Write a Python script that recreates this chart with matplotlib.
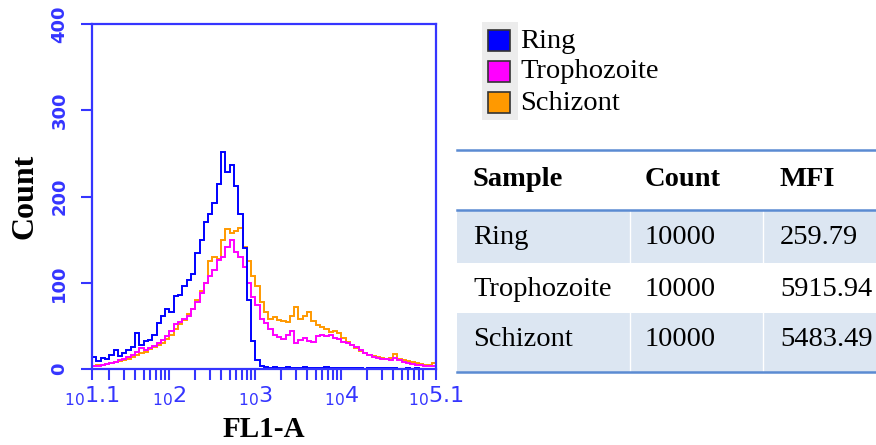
import numpy as np
import matplotlib
matplotlib.use("Agg")
import matplotlib.pyplot as plt
from matplotlib.patches import Rectangle
from matplotlib.ticker import FixedLocator, LogLocator, NullFormatter

plt.rcParams['mathtext.fontset'] = 'custom'
plt.rcParams['mathtext.rm'] = 'Liberation Sans'

# histogram bins: log10(FL1-A) from 1.1 to 5.1, step 0.05
log_lo = 1.1
log_hi = 5.1
log_step = 0.05

ring = [14, 9, 13, 12, 16, 22, 15, 18, 22, 26,
        42, 28, 32, 34, 40, 53, 61, 70, 66, 85,
        86, 96, 103, 110, 135, 150, 170, 180, 192, 215,
        252, 228, 236, 212, 180, 140, 80, 32, 10, 3,
        2, 1, 2, 1, 1, 2, 1, 1, 1, 2,
        1, 1, 1, 1, 2, 1, 1, 1, 1, 1,
        1, 1, 1, 0, 1, 1, 1, 1, 1, 1,
        1, 0, 0, 1, 0, 1, 0, 0, 0, 0]

trophozoite = [3, 4, 5, 6, 7, 8, 10, 12, 14, 16,
               20, 24, 22, 24, 27, 30, 34, 38, 44, 52,
               55, 58, 62, 70, 78, 88, 100, 108, 115, 126,
               130, 142, 150, 136, 130, 118, 100, 84, 74, 58,
               53, 46, 40, 37, 35, 40, 44, 30, 34, 36,
               32, 31, 38, 39, 38, 39, 36, 35, 31, 30,
               28, 25, 22, 19, 16, 14, 13, 12, 12, 11,
               13, 10, 8, 7, 6, 5, 5, 4, 4, 4]

schizont = [4, 5, 5, 6, 7, 8, 9, 11, 12, 14,
            16, 18, 20, 23, 25, 28, 30, 35, 40, 46,
            52, 57, 64, 70, 80, 90, 100, 125, 130, 128,
            150, 162, 158, 160, 164, 142, 125, 108, 96, 78,
            66, 58, 60, 57, 56, 54, 62, 72, 58, 62,
            66, 56, 51, 49, 46, 43, 44, 42, 36, 31,
            28, 24, 21, 18, 16, 15, 14, 13, 12, 13,
            17, 12, 10, 9, 8, 7, 6, 5, 5, 7]

legend_names = ["Ring", "Trophozoite", "Schizont"]
colors = ["#0000ff", "#ff00ff", "#ff9900"]

major_exps = ["1.1", "2", "3", "4", "5.1"]
y_ticks = [0, 100, 200, 300, 400]

table_cols = ["Sample", "Count", "MFI"]
table_samples = ["Ring", "Trophozoite", "Schizont"]
table_counts = ["10000", "10000", "10000"]
table_mfi = ["259.79", "5915.94", "5483.49"]

axis_blue = "#3535ff"
serif = "Liberation Serif"

fig = plt.figure(figsize=(8.76, 4.45), dpi=100)
ax = fig.add_axes([92 / 876, 1 - 369 / 445, 344 / 876, 345 / 445])

n_bins = len(ring)
edges = 10 ** (log_lo + log_step * np.arange(n_bins + 1))
ax.stairs(schizont, edges, baseline=None, color=colors[2], lw=1.4)
ax.stairs(trophozoite, edges, baseline=None, color=colors[1], lw=1.4)
ax.stairs(ring, edges, baseline=None, color=colors[0], lw=1.4)

ax.set_xscale('log')
ax.set_xlim(10 ** log_lo, 10 ** log_hi)
ax.set_ylim(0, 400)

for s in ax.spines.values():
    s.set_color(axis_blue)
    s.set_linewidth(1.6)

ax.xaxis.set_major_locator(FixedLocator([10 ** float(e) for e in major_exps]))
ax.xaxis.set_minor_locator(LogLocator(base=10, subs=np.arange(2, 10), numticks=20))
ax.xaxis.set_minor_formatter(NullFormatter())
ax.set_xticklabels([r'$\mathregular{{}_{10}%s}$' % e for e in major_exps])
ax.tick_params(axis='x', which='both', direction='out', length=8, width=1.5,
               color=axis_blue, labelcolor=axis_blue, labelsize=16, pad=3)

ax.set_yticks(y_ticks)
ax.set_yticklabels([str(t) for t in y_ticks], rotation=90, va='center',
                   fontweight='bold')
ax.tick_params(axis='y', direction='out', length=8, width=1.5,
               color=axis_blue, labelcolor=axis_blue, labelsize=13, pad=9)

ax.set_ylabel("Count", fontsize=23, fontweight='bold', family=serif, labelpad=8)
ax.set_xlabel("FL1-A", fontsize=21, fontweight='bold', family=serif, labelpad=6)

# right side: legend and table, in pixel coordinates
ov = fig.add_axes([0, 0, 1, 1], zorder=-1)
ov.set_xlim(0, 876)
ov.set_ylim(445, 0)
ov.axis('off')

ov.add_patch(Rectangle((482, 22), 36, 98, color="#ececec", lw=0))
for i, (name, c) in enumerate(zip(legend_names, colors)):
    y0 = 30 + i * 31
    ov.add_patch(Rectangle((488, y0), 22, 21, facecolor=c, edgecolor="#333333", lw=1.2))
    ov.text(520, y0 + 11, name, fontsize=20.5, family=serif, va='center', ha='left')

line_c = "#5b8bd2"
shade = "#dce6f2"
ov.add_patch(Rectangle((457, 210), 419, 53, color=shade, lw=0))
ov.add_patch(Rectangle((457, 313), 419, 59, color=shade, lw=0))
for xs in [630, 763]:
    ov.plot([xs, xs], [210, 263], color="white", lw=1)
    ov.plot([xs, xs], [313, 372], color="white", lw=1)
for yl in [150, 210, 372]:
    ov.plot([457, 876], [yl, yl], color=line_c, lw=1.8)

col_x = [473, 645, 780]
for x, t in zip(col_x, table_cols):
    ov.text(x, 180, t, fontsize=20.5, family=serif, fontweight='bold', va='center', ha='left')
row_y = [237, 290, 339]
for y, s, c, m in zip(row_y, table_samples, table_counts, table_mfi):
    ov.text(col_x[0], y, s, fontsize=20.5, family=serif, va='center', ha='left')
    ov.text(col_x[1], y, c, fontsize=20.5, family=serif, va='center', ha='left')
    ov.text(col_x[2], y, m, fontsize=20.5, family=serif, va='center', ha='left')

fig.savefig("out.png", dpi=100)
